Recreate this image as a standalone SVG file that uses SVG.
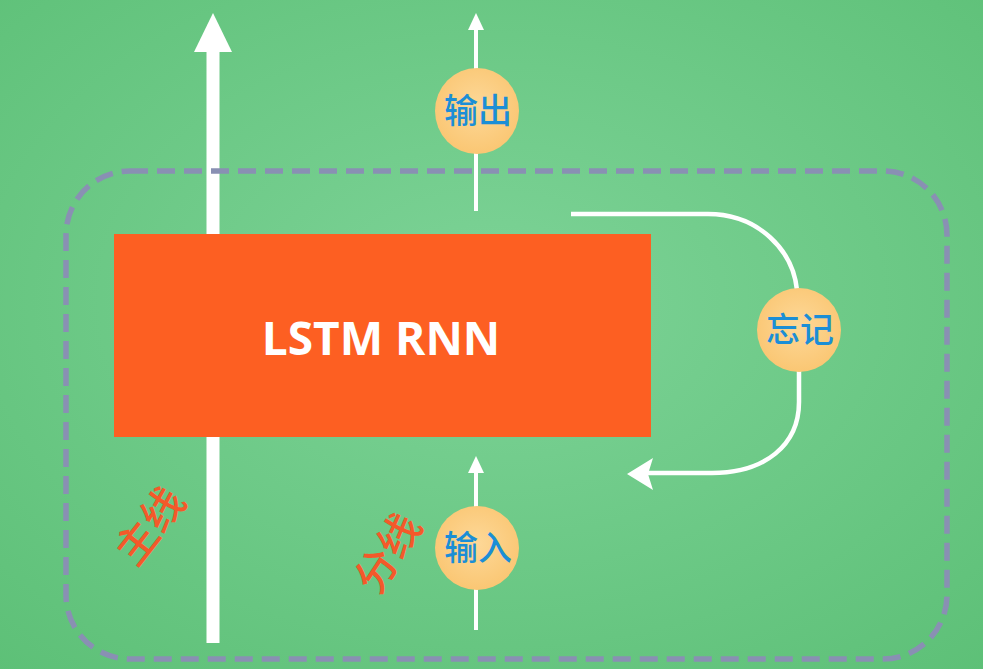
<svg xmlns="http://www.w3.org/2000/svg" width="983" height="669" viewBox="0 0 983 669">
<defs>
<radialGradient id="bg" cx="50%" cy="45%" r="75%">
<stop offset="0" stop-color="#7dd397"/>
<stop offset="1" stop-color="#5dc077"/>
</radialGradient>
<radialGradient id="gate" cx="50%" cy="45%" r="60%">
<stop offset="0" stop-color="#fdd898"/>
<stop offset="1" stop-color="#fac570"/>
</radialGradient>
<style>
.cjk{font-family:"Noto Sans CJK SC","Noto Sans",sans-serif;}
.gate{fill:url(#gate);}
.gtxt{fill:#1b8ed6;font-size:34px;text-anchor:middle;font-weight:500;}
.side{fill:#f4592a;font-size:42px;text-anchor:middle;font-weight:500;}
.wl{stroke:#ffffff;fill:none;stroke-linecap:butt;}
</style>
</defs>
<rect x="0" y="0" width="983" height="669" fill="url(#bg)"/>
<g id="connectors">
<line class="wl" x1="213" y1="643" x2="213" y2="50" stroke-width="13"/>
<polygon points="213,13 194,52 232,52" fill="#ffffff"/>
<line class="wl" x1="476" y1="211" x2="476" y2="28" stroke-width="4"/>
<polygon points="476,13 468,30 484,30" fill="#ffffff"/>
<line class="wl" x1="476" y1="630" x2="476" y2="470" stroke-width="4"/>
<polygon points="476,456 468,473 484,473" fill="#ffffff"/>
<path class="wl" d="M571,214 L708,214 C758,214 793,250 797,290" stroke-width="4.5"/>
<path class="wl" d="M799,370 L799,402 C799,445 765,473 712,473 L648,473" stroke-width="4.5"/>
<polygon points="627,474 653,458 648,474 653,490" fill="#ffffff"/>
</g>
<g id="boundary">
<rect x="66" y="171" width="881" height="488" rx="64" ry="64" fill="none" stroke="#8990b3" stroke-width="5.5" stroke-dasharray="18 9"/>
</g>
<g id="lstm">
<rect x="114" y="234" width="537" height="203" fill="#fd5f22"/>
<text x="381" y="355" font-family="'Open Sans','Liberation Sans',sans-serif" font-weight="700" font-size="46" fill="#ffffff" text-anchor="middle">LSTM RNN</text>
</g>
<g id="output">
<ellipse class="gate" cx="477" cy="111" rx="42" ry="43"/>
<text class="cjk gtxt" x="478" y="123">输出</text>
</g>
<g id="forget">
<circle class="gate" cx="799" cy="330" r="42"/>
<text class="cjk gtxt" x="800" y="342">忘记</text>
</g>
<g id="input">
<circle class="gate" cx="477" cy="548" r="42"/>
<text class="cjk gtxt" x="478" y="560">输入</text>
</g>
<g id="mainline-label">
<text class="cjk side" x="0" y="15" transform="translate(150,526) rotate(-52)">主线</text>
</g>
<g id="branch-label">
<text class="cjk side" x="0" y="15" transform="translate(388,553) rotate(-57)">分线</text>
</g>
</svg>
